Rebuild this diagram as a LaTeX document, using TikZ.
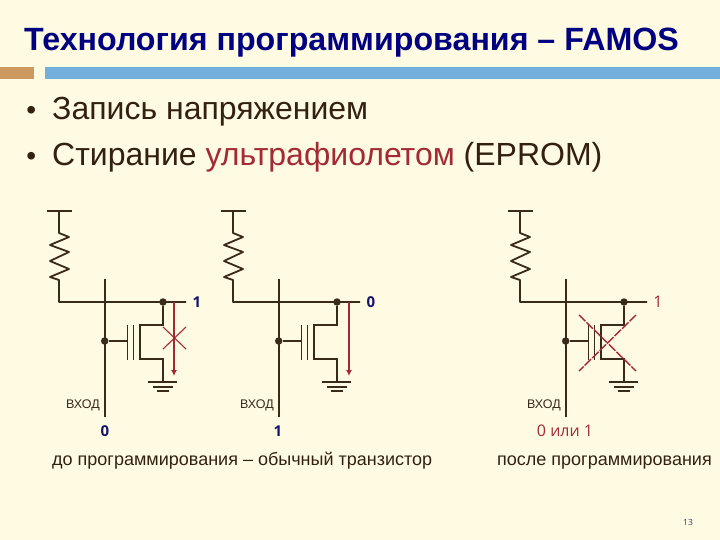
\documentclass[tikz,border=0pt]{standalone}
\usepackage{fontspec}
\setmainfont{Liberation Sans}
\newfontfamily\labelfont{Open Sans}
\usetikzlibrary{arrows.meta}
\definecolor{slidebg}{HTML}{FFFBE3}
\definecolor{titlenavy}{HTML}{000080}
\definecolor{bodybrown}{HTML}{33210F}
\definecolor{wirebrown}{HTML}{3A2A18}
\definecolor{redmark}{HTML}{A32A35}
\definecolor{bitblue}{HTML}{14146E}
\definecolor{barbrown}{HTML}{CC9A5E}
\definecolor{barblue}{HTML}{74AEDD}
\tikzset{
	wire/.style = {color = wirebrown, line width = 1.8pt},
	joint/.style = {circle, fill = wirebrown, inner sep = 0pt, minimum size = 7.5pt},
	redline/.style = {color = redmark, line width = 1.4pt},
	bit/.style = {font = \labelfont\fontsize{15}{15}\selectfont\bfseries, text = bitblue, inner sep = 0pt},
	redbit/.style = {font = \labelfont\fontsize{16}{16}\selectfont, text = redmark, inner sep = 0pt},
	caption/.style = {font = \fontsize{18}{20}\selectfont, text = bodybrown, inner sep = 0pt, anchor = base west},
	inputname/.style = {font = \fontsize{12.5}{14}\selectfont, text = wirebrown, inner sep = 0pt},
	bodyline/.style = {font = \fontsize{32}{34}\selectfont, text = bodybrown, inner sep = 0pt, anchor = base west},
	bulletmark/.style = {font = \fontsize{28}{30}\selectfont, text = bodybrown, inner sep = 0pt, anchor = base west}
}
\begin{document}
\begin{tikzpicture}[x=1pt,y=-1pt]
	\fill[slidebg] (0,0) rectangle (720,540);
	\useasboundingbox (0,0) rectangle (720,540);
	% slide header
	\node[font = \fontsize{32.2}{34}\selectfont\bfseries, text = titlenavy, inner sep = 0pt, anchor = base west] (title) at (24,51) {Технология программирования – FAMOS};
	\fill[barbrown] (0,67) rectangle (34,79);
	\fill[barblue] (45,67) rectangle (720,79);
	\node[bulletmark] (bullet1) at (26.2,119.5) {•};
	\node[bulletmark] (bullet2) at (26.2,165.5) {•};
	\node[bodyline] (write) at (52,120) {Запись напряжением};
	\node[bodyline] (erase) at (52,166) {Стирание \textcolor{redmark}{ультрафиолетом} (EPROM)};
	% the three cells
	\foreach \cell/\dx in {a/0,b/174,c/461} {
		\begin{scope}[xshift=\dx pt]
			\coordinate (\cell-bar-l) at (47,211);
			\coordinate (\cell-bar-r) at (72,211);
			\coordinate (\cell-vdd) at (59,211);
			\coordinate (\cell-corner) at (59,302);
			\coordinate (\cell-out) at (186,302);
			\coordinate (\cell-in-top) at (104.7,279);
			\coordinate (\cell-in-end) at (104.7,417);
			\coordinate (\cell-gnd) at (163,382);
			\node[joint] (\cell-dot-drain) at (163,302) {};
			\node[joint] (\cell-dot-in) at (104.7,341) {};
			\draw[wire, line join = round] (\cell-vdd) -- (59,233) -- (69,237) -- (50,245) -- (69,252) -- (50,261) -- (69,269) -- (50,277) -- (59,280) -- (\cell-corner) -- (\cell-out);
			\draw[wire] (\cell-bar-l) -- (\cell-bar-r);
			\draw[wire] (\cell-in-top) -- (\cell-in-end);
			\draw[wire] (\cell-dot-in) -- (127,341);
			% gate plates and channel
			\draw[wire] (127.5,325) -- (127.5,360);
			\draw[wire] (133.5,325) -- (133.5,360);
			\draw[wire] (\cell-dot-drain) -- (163,325) -- (140,325) -- (140,359) -- (163,359) -- (\cell-gnd);
			\draw[wire] (148,382) -- (177,382);
			\draw[wire] (153,387) -- (173,387);
			\draw[wire] (157,391) -- (169,391);
			\node[inputname, anchor = east] (\cell-in-name) at (100,405) {ВХОД};
		\end{scope}
	}
	% current arrows
	\coordinate (a-arrow-top) at (174,302);
	\coordinate (a-arrow-end) at (174,376);
	\coordinate (b-arrow-top) at (349,302);
	\coordinate (b-arrow-end) at (349,376);
	\draw[redline, -{Latex[length=6pt,width=6pt]}] (a-arrow-top) -- (a-arrow-end);
	\draw[redline, -{Latex[length=6pt,width=6pt]}] (b-arrow-top) -- (b-arrow-end);
	% crossed out parts
	\draw[redline, line width = 1.1pt] (163,327) -- (186,349);
	\draw[redline, line width = 1.1pt] (186,327) -- (163,349);
	\draw[redline, dash pattern = on 9pt off 1.5pt] (579,315) -- (636,371);
	\draw[redline, dash pattern = on 9pt off 1.5pt] (636,315) -- (579,371);
	% levels
	\node[bit] (a-out) at (197,302) {1};
	\node[bit] (b-out) at (371,302) {0};
	\node[redbit] (c-out) at (658,302) {1};
	\node[bit] (a-in) at (105,431) {0};
	\node[bit] (b-in) at (278,431) {1};
	\node[redbit] (c-in) at (565,431) {0 или 1};
	\node[caption] (before) at (52,465) {до программирования – обычный транзистор};
	\node[caption] (after) at (497,465) {после программирования};
	\node[font = \labelfont\fontsize{8.5}{10}\selectfont, text = bitblue!70!gray, inner sep = 0pt] (page) at (688,522) {13};
\end{tikzpicture}
\end{document}
